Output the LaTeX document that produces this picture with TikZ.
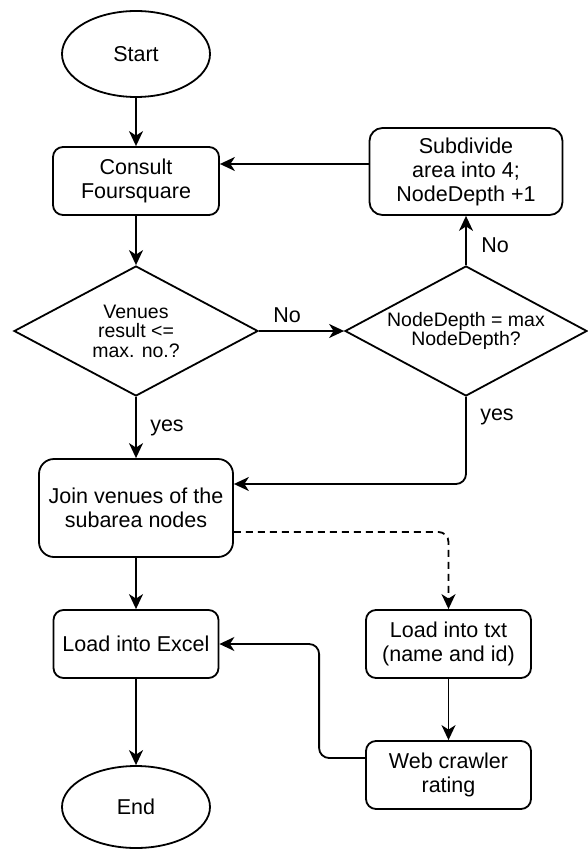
\documentclass[tikz,border=0pt]{standalone}
\usepackage{fontspec}
\setmainfont{Liberation Sans}
\usetikzlibrary{shapes.geometric,arrows.meta,calc}
\newcommand\boxfont{\fontsize{21.5}{24}\selectfont}
\newcommand\diafont{\fontsize{19.5}{19.5}\selectfont}
\begin{document}
\begin{tikzpicture}[x=1pt,y=-1pt,line width=1.8pt,
  arr/.style={-{Stealth[length=15pt,width=14pt,inset=4.5pt]}},
  box/.style={draw,rounded corners=#1,align=center,inner sep=0pt,font=\boxfont},
  term/.style={draw,ellipse,minimum width=148pt,minimum height=86pt,inner sep=0pt,font=\boxfont},
  dia/.style={draw,diamond,inner sep=0pt,minimum height=130pt},
  diatext/.style={align=center,font=\diafont,inner sep=0pt},
  lbl/.style={font=\boxfont,inner sep=0pt}]
\useasboundingbox (0,0) rectangle (588,850);
\node[term] (start) at (136,54) {Start};
\node[box=10pt,minimum width=166pt,minimum height=68pt] (cons) at (136,181) {Consult\\Foursquare};
\node[box=13pt,minimum width=193pt,minimum height=87pt] (sub) at (466,171.5) {Subdivide\\area into 4;\\NodeDepth +1};
\node[dia,minimum width=244pt,label={[diatext]center:{Venues\\result <=\\max. no.?}}] (d1) at (136,331) {};
\node[dia,minimum width=242pt,label={[diatext]center:{NodeDepth = max\\NodeDepth?}}] (d2) at (466,331) {};
\node[box=15pt,minimum width=194pt,minimum height=98pt] (join) at (136,508) {Join venues of the\\subarea nodes};
\node[box=10pt,minimum width=165pt,minimum height=68pt] (exc) at (136,644) {Load into Excel};
\node[box=10pt,minimum width=165pt,minimum height=68pt] (txt) at (448.5,644) {Load into txt\\(name and id)};
\node[box=10pt,minimum width=165pt,minimum height=68pt] (web) at (448.5,775) {Web crawler\\rating};
\node[term,minimum height=82pt] (end) at (136,807) {End};

\node[lbl] (lno1) at (287,315) {No};
\node[lbl] (lno2) at (495,245) {No};
\node[lbl] (lyes1) at (167,428) {yes};
\node[lbl] (lyes2) at (497,417) {yes};

\draw[arr] (start) -- (cons);
\coordinate (s1) at ([yshift=7.5pt]sub.west);
\draw[arr] (s1) -- (s1 -| cons.east);
\draw[arr] (cons) -- (d1);
\draw[arr] (d1.east) -- (d2.west);
\draw[arr] (d2.north) -- (sub.south);
\draw[arr] (d1.south) -- (join.north);
\coordinate (j1) at ([yshift=24pt]join.east);
\draw[arr,rounded corners=10pt] (d2.south) |- (j1);
\coordinate (j2) at ([yshift=-24pt]join.east);
\draw[arr,dash pattern=on 7pt off 5pt,rounded corners=10pt] (j2) -| (txt.north);
\draw[arr] (join) -- (exc);
\draw[arr] (exc) -- (end);
\draw[arr] (txt) -- (web);
\coordinate (w1) at ([yshift=17pt]web.west);
\draw[arr,rounded corners=10pt] (w1) -- ++(-46,0) |- (exc.east);
\end{tikzpicture}
\end{document}
